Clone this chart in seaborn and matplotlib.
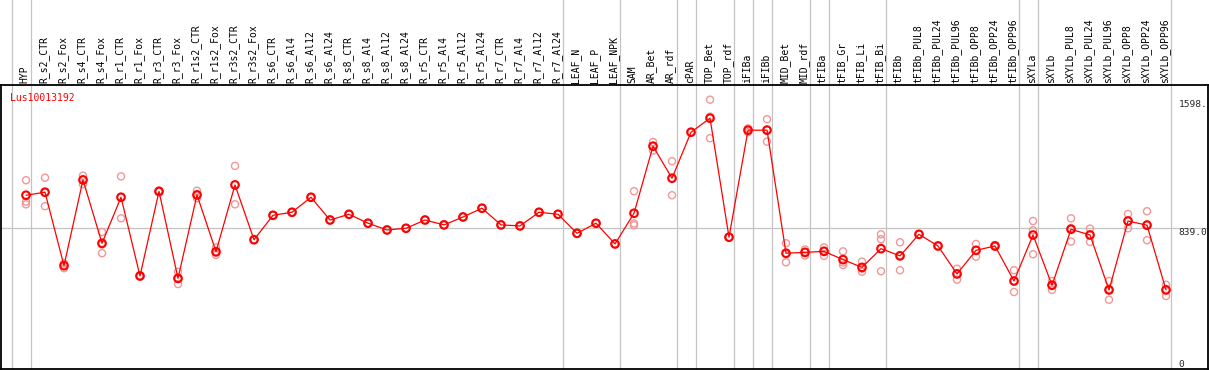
import matplotlib
matplotlib.use('Agg')
import matplotlib.pyplot as plt
import matplotlib.transforms as mtransforms
import pandas as pd
import seaborn as sns

# sample names along the x axis
samples = ['HYP', 'R_s2_CTR', 'R_s2_Fox', 'R_s4_CTR', 'R_s4_Fox', 'R_r1_CTR', 'R_r1_Fox',
           'R_r3_CTR', 'R_r3_Fox', 'R_r1s2_CTR', 'R_r1s2_Fox', 'R_r3s2_CTR', 'R_r3s2_Fox',
           'R_s6_CTR', 'R_s6_Al4', 'R_s6_Al12', 'R_s6_Al24', 'R_s8_CTR', 'R_s8_Al4',
           'R_s8_Al12', 'R_s8_Al24', 'R_r5_CTR', 'R_r5_Al4', 'R_r5_Al12', 'R_r5_Al24',
           'R_r7_CTR', 'R_r7_Al4', 'R_r7_Al12', 'R_r7_Al24', 'LEAF_N', 'LEAF_P', 'LEAF_NPK',
           'SAM', 'AR_Bet', 'AR_rdf', 'cPAR', 'TOP_Bet', 'TOP_rdf', 'iFIBa', 'iFIBb',
           'MID_Bet', 'MID_rdf', 'tFIBa', 'tFIB_Gr', 'tFIB_Li', 'tFIB_Bi', 'tFIBb',
           'tFIBb_PUL8', 'tFIBb_PUL24', 'tFIBb_PUL96', 'tFIBb_OPP8', 'tFIBb_OPP24',
           'tFIBb_OPP96', 'sXYLa', 'sXYLb', 'sXYLb_PUL8', 'sXYLb_PUL24', 'sXYLb_PUL96',
           'sXYLb_OPP8', 'sXYLb_OPP24', 'sXYLb_OPP96']

# mean expression per sample
means = [1031, 1049, 613, 1122, 746, 1019, 552, 1054, 538, 1033, 696, 1092, 767,
         912, 930, 1019, 884, 918, 865, 825, 835, 884, 855, 902, 954, 855, 849, 930, 918,
         805, 865, 742, 924, 1322, 1132, 1405, 1488, 782, 1417, 1417, 687, 692, 698,
         649, 603, 714, 671, 799, 730, 564, 704, 730, 522, 795, 497, 829, 795, 469,
         878, 853, 469]

# individual replicates
rep1 = [1120, 1135, 627, 1147, 813, 1143, 548, 1050, 577, 1058, 722, 1205, 767,
        912, 930, 1019, 884, 918, 865, 825, 835, 884, 855, 902, 954, 855, 849, 930, 918,
        805, 865, 742, 1055, 1347, 1233, 1405, 1598, 782, 1428, 1482, 746, 709, 722,
        698, 637, 799, 752, 799, 730, 595, 742, 735, 586, 878, 522, 894, 833, 522,
        920, 936, 500]
rep2 = [993, 966, 598, 1096, 687, 894, 552, 1054, 504, 1013, 677, 977, 767,
        912, 930, 1019, 884, 918, 865, 825, 835, 884, 855, 902, 954, 855, 849, 930, 918,
        805, 865, 742, 853, 1296, 1031, 1405, 1369, 782, 1405, 1349, 633, 673, 671,
        617, 577, 770, 586, 799, 730, 530, 666, 725, 457, 823, 469, 756, 754, 411,
        835, 764, 433]
rep3 = [977, 1046, 613, 1122, 738, 1020, 556, 1058, 533, 1028, 690, 1094, 767,
        912, 930, 1019, 884, 918, 865, 825, 835, 884, 855, 902, 954, 855, 849, 930, 918,
        805, 865, 742, 864, 1323, 1132, 1405, 1497, 782, 1417, 1420, 682, 695, 702,
        632, 595, 580, 675, 799, 730, 567, 704, 730, 523, 681, 500, 837, 798, 474,
        879, 859, 474]

# last sample of each group (a separator is drawn after it); -1 = left edge
group_ends = [-1, 0, 28, 31, 34, 35, 37, 38, 39, 41, 42, 45, 52, 53, 60]

gene = 'Lus10013192'
mid_value = 839.0
max_value = 1598

pos = list(range(len(samples)))
df_mean = pd.DataFrame({'pos': pos, 'value': means})
df_rep = pd.DataFrame({'pos': pos * 3, 'value': rep1 + rep2 + rep3})

sns.set_theme(style='white')
plt.rcParams['font.family'] = ['DejaVu Sans Mono']

W, H = 1209, 370
fig = plt.figure(figsize=(W / 100, H / 100), dpi=100)
ax = fig.add_axes([1 / W, 1 / H, 1207 / W, 284 / H])

ax.set_xlim(-1.316, 62.21)
ax.set_ylim(0, 1685)

# grid lines
ax.axhline(mid_value, color='#c4c4c4', lw=0.9, zorder=0)
for g in group_ends:
    ax.axvline(g + 0.25, ymin=0, ymax=1.31, color='#c4c4c4', lw=0.9, zorder=0, clip_on=False)

sns.scatterplot(data=df_rep, x='pos', y='value', ax=ax, marker='o', s=26,
                facecolor='none', edgecolor='#f09898', linewidth=1.0, zorder=2)
sns.lineplot(data=df_mean, x='pos', y='value', ax=ax, color='red', lw=0.9, zorder=3)
sns.scatterplot(data=df_mean, x='pos', y='value', ax=ax, marker='o', s=30,
                facecolor='none', edgecolor='red', linewidth=1.5, zorder=4)

ax.set_xticks([])
ax.set_yticks([])
ax.set_xlabel('')
ax.set_ylabel('')
for sp in ax.spines.values():
    sp.set_color('black')
    sp.set_linewidth(1.3)

# sample labels above the frame
trans = mtransforms.blended_transform_factory(ax.transData, ax.transAxes)
for i, name in enumerate(samples):
    ax.text(i - 0.06, 1.008, name, transform=trans, rotation=90, ha='center', va='bottom',
            fontsize=7, color='black')

ax.text(0.0075, 0.955, gene, transform=ax.transAxes, color='red', fontsize=7,
        ha='left', va='center')

# value labels at the right edge
trans_y = mtransforms.blended_transform_factory(ax.transAxes, ax.transData)
ax.text(0.9755, max_value, f'{max_value}.', transform=trans_y, fontsize=6.8,
        ha='left', va='top')
ax.text(0.9755, mid_value, f'{mid_value:.1f}', transform=trans_y, fontsize=6.8,
        ha='left', va='top')
ax.text(0.9755, 0, '0', transform=trans_y, fontsize=6.8, ha='left', va='bottom')

plt.savefig('out.png', dpi=100)
